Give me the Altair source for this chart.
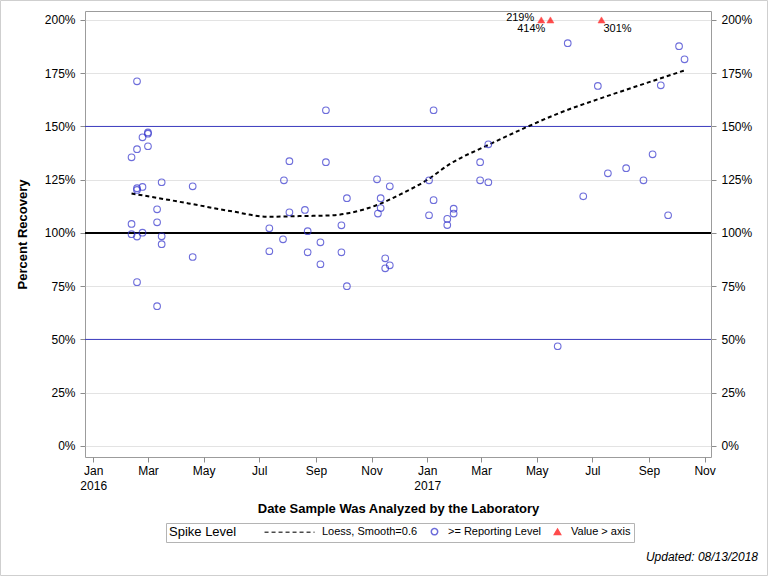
import altair as alt
import pandas as pd

FONT = "Liberation Sans"

# Spike recoveries at or above the reporting level (percent)
sample_dates = [
    "2016-02-12", "2016-02-12", "2016-02-12",
    "2016-02-18", "2016-02-18", "2016-02-18", "2016-02-18", "2016-02-18", "2016-02-18",
    "2016-02-24", "2016-02-24", "2016-02-24",
    "2016-03-01", "2016-03-01", "2016-03-01",
    "2016-03-11", "2016-03-11", "2016-03-11",
    "2016-03-16", "2016-03-16", "2016-03-16",
    "2016-04-19", "2016-04-19",
    "2016-07-12", "2016-07-12", "2016-07-27", "2016-07-28",
    "2016-08-03", "2016-08-03", "2016-08-20", "2016-08-23", "2016-08-23",
    "2016-09-06", "2016-09-06", "2016-09-12", "2016-09-12",
    "2016-09-29", "2016-09-29", "2016-10-05", "2016-10-05",
    "2016-11-07", "2016-11-08", "2016-11-11", "2016-11-11",
    "2016-11-16", "2016-11-16", "2016-11-21", "2016-11-21",
    "2017-01-03", "2017-01-03", "2017-01-08", "2017-01-08",
    "2017-01-23", "2017-01-23", "2017-01-30", "2017-01-30",
    "2017-02-28", "2017-02-28", "2017-03-09", "2017-03-09",
    "2017-05-24", "2017-06-04", "2017-06-21", "2017-07-07", "2017-07-18",
    "2017-08-07", "2017-08-26", "2017-09-05", "2017-09-14", "2017-09-22",
    "2017-10-04", "2017-10-10",
]
recovery_pct = [
    135.5, 104.2, 99.4,
    171.2, 139.3, 121.0, 120.2, 98.3, 76.9,
    144.9, 121.6, 100.1,
    146.6, 147.2, 140.7,
    111.1, 105.0, 65.6,
    123.8, 98.4, 94.7,
    121.9, 88.7,
    102.2, 91.4, 97.0, 124.7,
    133.7, 109.7, 110.8, 100.8, 90.9,
    95.6, 85.3, 157.6, 133.2,
    103.6, 90.9, 116.3, 75.0,
    125.2, 109.1, 116.3, 111.7,
    88.1, 83.4, 121.9, 84.8,
    124.7, 108.3, 157.6, 115.4,
    106.6, 103.7, 111.4, 109.1,
    133.2, 124.7, 141.6, 123.8,
    46.8, 189.1, 117.2, 169.0, 128.0,
    130.4, 124.7, 136.9, 169.3, 108.3,
    187.7, 181.5,
]

# Recoveries beyond the top of the axis
over_dates = ["2017-05-06", "2017-05-16", "2017-07-11"]
over_pct = [219, 414, 301]

# Loess smooth (smooth = 0.6) through the recoveries
loess_dates = [
    "2016-02-12", "2016-03-16", "2016-04-19", "2016-05-30", "2016-07-12",
    "2016-08-14", "2016-09-20", "2016-10-08", "2016-11-07", "2016-12-02",
    "2017-01-01", "2017-01-26", "2017-03-09", "2017-04-21", "2017-05-27",
    "2017-07-10", "2017-08-23", "2017-10-10",
]
loess_pct = [
    118.5, 116.1, 113.5, 110.3, 107.6,
    107.9, 108.3, 109.4, 113.1, 118.0,
    124.9, 132.4, 141.3, 149.9, 156.5,
    163.2, 169.5, 176.3,
]

# Reference levels
blue_levels = [50, 150]
black_levels = [100]

y_ticks = list(range(0, 201, 25))
x_ticks = [(2016, m) for m in (1, 3, 5, 7, 9, 11)] + [(2017, m) for m in (1, 3, 5, 7, 9, 11)]

updated_note = "Updated: 08/13/2018"

kinds = ["Loess, Smooth=0.6", ">= Reporting Level", "Value > axis"]
stroke_colors = ["#000000", "#3030cc", "#ff0000"]
fill_colors = ["transparent", "transparent", "#ff0000"]
shapes = ["M-13.9,0H1.9", "circle", "triangle-up"]
dashes = [[4, 3], [1, 0], [1, 0]]

points_df = pd.DataFrame({"date": sample_dates, "pct": recovery_pct, "kind": kinds[1]})
over_df = pd.DataFrame({
    "date": over_dates,
    "value": over_pct,
    "kind": kinds[2],
    "label": [f"{v}%" for v in over_pct],
})
loess_df = pd.DataFrame({"date": loess_dates, "pct": loess_pct, "kind": kinds[0]})
blue_df = pd.DataFrame({"level": blue_levels})
black_df = pd.DataFrame({"level": black_levels})

x_scale = alt.Scale(
    type="utc",
    domain=[alt.DateTime(year=2015, month=12, date=23, utc=True),
            alt.DateTime(year=2017, month=11, date=8, utc=True)],
)
y_scale = alt.Scale(domain=[-5.2, 204.2], nice=False, zero=False)

x_axis = alt.Axis(
    values=[alt.DateTime(year=y, month=m, date=1, utc=True) for y, m in x_ticks],
    labelExpr=("utcmonth(datum.value) === 0 ? "
               "[utcFormat(datum.value, '%b'), utcFormat(datum.value, '%Y')] : "
               "utcFormat(datum.value, '%b')"),
    title="Date Sample Was Analyzed by the Laboratory",
    titleFontSize=13, titleFontWeight="bold", titlePadding=11,
    labelFontSize=12, labelLineHeight=15, labelPadding=3,
    tickSize=5, grid=False, domain=False, labelFlush=False,
)
left_axis = alt.Axis(
    orient="left", values=y_ticks, labelExpr="datum.value + '%'",
    title="Percent Recovery", titleFontSize=13, titleFontWeight="bold",
    titlePadding=15, labelFontSize=12, labelPadding=5, tickSize=5,
    grid=True, domain=False,
)
right_axis = alt.Axis(
    orient="right", values=y_ticks, labelExpr="datum.value + '%'",
    title=None, labelFontSize=12, labelPadding=5, tickSize=5,
    grid=False, domain=False,
)

legend = alt.Legend(
    title="Spike Level", orient="none", legendX=81, legendY=512,
    direction="horizontal", titleOrient="left", titleFontSize=13,
    titleFontWeight="normal", titlePadding=66, titleLimit=200,
    labelFontSize=11, labelOffset=8, columnPadding=10, symbolSize=40,
    symbolStrokeWidth=1.5, strokeColor="#b4b4b4", fillColor="white",
    padding=3, labelLimit=300,
)

X = alt.X("date:T", scale=x_scale, axis=x_axis)


def y_left(field):
    return alt.Y(field, scale=y_scale, axis=left_axis)


stroke_enc = alt.Stroke("kind:N", scale=alt.Scale(domain=kinds, range=stroke_colors), legend=legend)
shape_enc = alt.Shape("kind:N", scale=alt.Scale(domain=kinds, range=shapes), legend=legend)
fill_enc = alt.Fill("kind:N", scale=alt.Scale(domain=kinds, range=fill_colors), legend=legend)
dash_enc = alt.StrokeDash("kind:N", scale=alt.Scale(domain=kinds, range=dashes), legend=legend)

black_rule = alt.Chart(black_df).mark_rule(color="#000000", strokeWidth=2).encode(
    y=y_left("level:Q")
)

loess_line = alt.Chart(loess_df).mark_line(interpolate="monotone", strokeWidth=2).encode(
    x=X, y=y_left("pct:Q"), stroke=stroke_enc, strokeDash=dash_enc
)

circles = alt.Chart(points_df).mark_point(filled=False, size=44, strokeWidth=1.1).encode(
    x=X, y=y_left("pct:Q"), stroke=stroke_enc, shape=shape_enc
)

over_base = alt.Chart(over_df).transform_calculate(pct="min(datum.value, 200)")

triangles = over_base.mark_point(filled=True, size=50, strokeWidth=0.5).encode(
    x=X, y=y_left("pct:Q"), stroke=stroke_enc, fill=fill_enc, shape=shape_enc
)


def over_label(text, align, dx, dy):
    return over_base.transform_filter(alt.datum.label == text).mark_text(
        align=align, baseline="middle", dx=dx, dy=dy, fontSize=11, font=FONT, color="black"
    ).encode(x=X, y=y_left("pct:Q"), text="label:N")


labels = [
    over_label("219%", "right", -7, -2),
    over_label("414%", "right", -5, 9),
    over_label("301%", "left", 2, 9),
]

inner = alt.layer(black_rule, loess_line, circles, triangles, *labels)

blue_rules = alt.Chart(blue_df).mark_rule(color="#3b3bbf", strokeWidth=1).encode(
    y=alt.Y("level:Q", scale=y_scale, axis=right_axis)
)

# Outer border of the graph and the footnote below the legend
frame = alt.Chart(pd.DataFrame({"a": [0]})).mark_rect(
    fillOpacity=0, stroke="#cfcfcf", strokeWidth=1
).encode(
    x=alt.value(-84.5), x2=alt.value(682.5), y=alt.value(-10.5), y2=alt.value(564.5)
)

footnote = alt.Chart(pd.DataFrame({"note": [updated_note]})).mark_text(
    align="right", baseline="middle", fontSize=12, fontStyle="italic", font=FONT, color="black"
).encode(
    x=alt.value(673), y=alt.value(546), text="note:N"
)

chart = alt.layer(blue_rules, inner, frame, footnote).resolve_axis(y="independent").properties(
    width=626,
    height=446,
    autosize="none",
    padding={"left": 85, "top": 11, "right": 57, "bottom": 119},
).configure(font=FONT).configure_view(
    stroke="#9c9c9c", strokeWidth=1
).configure_axis(
    labelColor="black", titleColor="black", tickColor="#8c8c8c",
    gridColor="#e3e3e3", labelFont=FONT, titleFont=FONT,
).configure_legend(
    labelColor="black", titleColor="black", labelFont=FONT, titleFont=FONT,
)

chart.save("out.html", embed_options={"renderer": "svg", "actions": False})
